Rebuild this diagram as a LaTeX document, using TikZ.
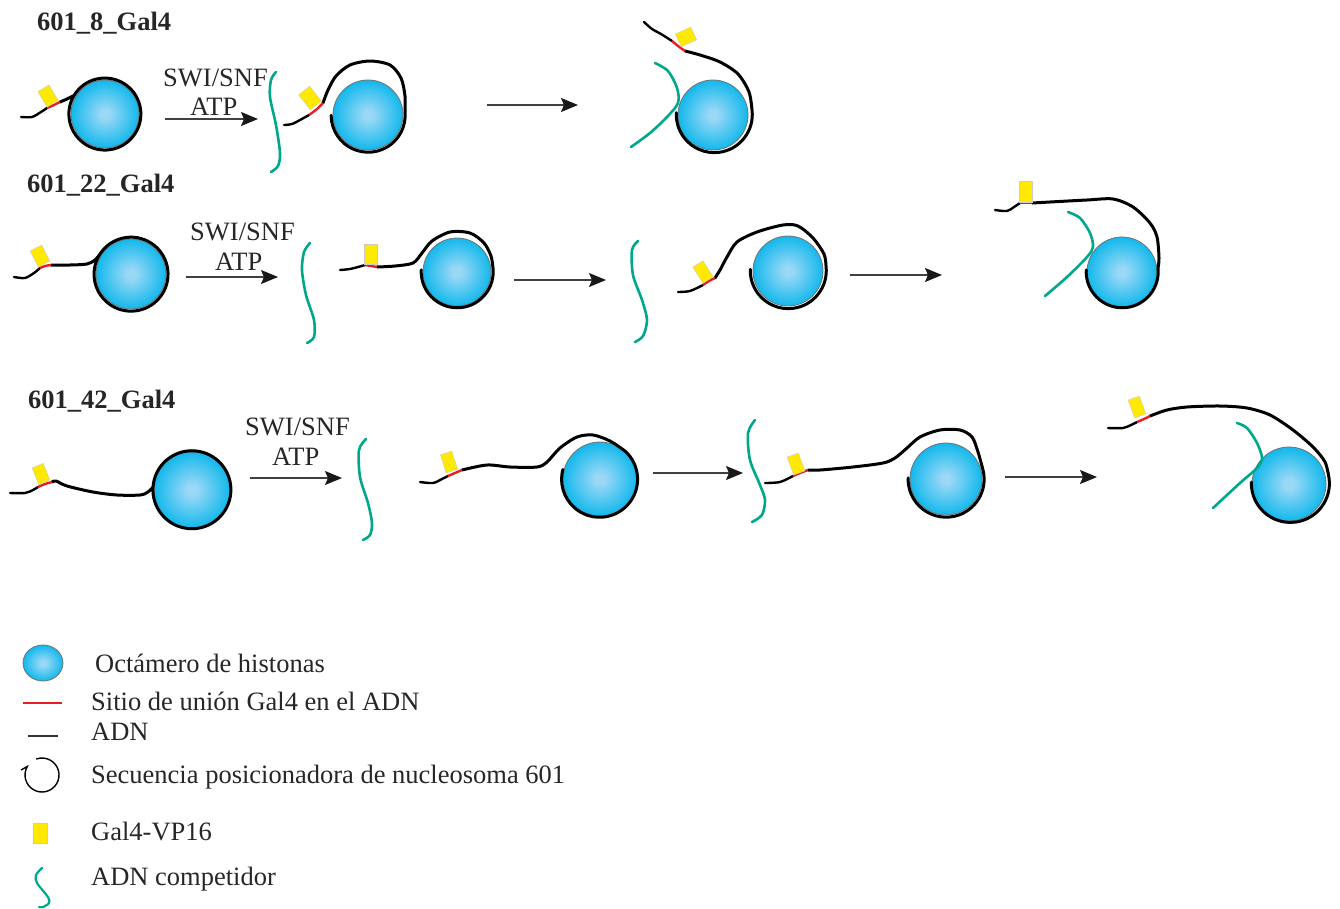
\documentclass[tikz,border=0pt]{standalone}
\usepackage{fontspec}
\setmainfont{Liberation Serif}
\usetikzlibrary{arrows.meta}

\definecolor{histblue}{RGB}{0,180,235}
\definecolor{histlight}{RGB}{155,216,246}
\definecolor{galyellow}{RGB}{255,233,0}
\definecolor{sitered}{RGB}{230,30,36}
\definecolor{compgreen}{RGB}{0,168,138}

\pgfdeclareradialshading{histshade}{\pgfpoint{0bp}{0bp}}{color(0bp)=(histlight); color(3bp)=(histlight); color(28bp)=(histblue); color(50bp)=(histblue)}

\tikzset{
  dna/.style={line width=2.4pt, black, line cap=round, line join=round},
  dnawrap/.style={dna, line width=3pt},
  site/.style={line width=2.4pt, sitered},
  histone/.style={shading=histshade, draw=black!55, line width=0.8pt},
  gal/.style={fill=galyellow, draw=black!20, line width=0.4pt, inner sep=0pt, minimum width=13pt, minimum height=18pt},
  comp/.style={line width=2.6pt, compgreen, line cap=round},
  react/.style={line width=1.4pt, black!75, -{Stealth[length=17pt, width=14pt, inset=3pt, black!90]}},
  lbl/.style={font=\fontsize{26.5}{30}\selectfont, text=black!85, inner sep=0pt, anchor=base west},
  ttl/.style={lbl, font=\fontsize{26.5}{30}\selectfont\bfseries},
}

\begin{document}
\begin{tikzpicture}[x=1pt, y=-1pt]
\useasboundingbox (0,0) rectangle (1340,908);

\node[ttl] (t8) at (37,30) {601\_8\_Gal4};

\shadedraw[histone] (105,114) circle (34);
\draw[dnawrap] plot[smooth] coordinates {(60,102) (67,99) (74,95.5)} arc[start angle=211, end angle=585, radius=36];
\draw[dna] plot[smooth] coordinates {(21,117) (32,117) (41,112) (47,108)};
\draw[site] plot[smooth] coordinates {(47,108) (54,105) (60,102)};
\node[gal, rotate=31] (g8a) at (48,96) {};

\node[lbl] (swi8) at (163,86) {SWI/SNF};
\node[lbl] (atp8) at (190,115) {ATP};
\coordinate (s8a) at (165,119);
\coordinate (e8a) at (258,119);
\draw[react] (s8a) -- (e8a);

\shadedraw[histone] (368,115) circle (35);
\draw[dnawrap] plot[smooth] coordinates {(323,103) (328,90) (336,76) (350,65) (370,61) (390,65) (401,78) (405,96) (405,112)} arc[start angle=-5, end angle=180, radius=37];
\draw[dna] plot[smooth] coordinates {(284,125) (292,124) (300,120) (309,115)};
\draw[site] plot[smooth] coordinates {(309,115) (317,109) (323,103)};
\node[gal, rotate=38, minimum width=14pt, minimum height=19pt] (g8b) at (310,98) {};

\coordinate (s8b) at (487,105);
\coordinate (e8b) at (578,105);
\draw[react] (s8b) -- (e8b);

\shadedraw[histone] (713,115) circle (35);
\draw[dnawrap] plot[smooth] coordinates {(685,51) (700,55) (720,62) (738,74) (749,92) (752,110)} arc[start angle=-7, end angle=183, radius=38];
\draw[dna] plot[smooth] coordinates {(644,22) (652,29) (661,34) (672,41)};
\draw[site] plot[smooth] coordinates {(672,41) (678,46) (685,51)};
\node[gal, rotate=-65, minimum width=14pt, minimum height=17pt] (g8c) at (686,37) {};

\draw[comp] plot[smooth] coordinates {(276,72) (271,80) (270,97) (276,125) (280,153) (278,166) (271,172)};
\draw[comp] plot[smooth] coordinates {(655,63) (668,71) (677,88) (678,103) (667,117) (650,133) (631,147)};

\node[ttl] (t22) at (27,192) {601\_22\_Gal4};

\shadedraw[histone] (131,274) circle (35);
\draw[dnawrap] plot[smooth] coordinates {(51,265) (70,265) (87,264) (95,260) (100,254)} arc[start angle=213, end angle=590, radius=37];
\draw[dna] plot[smooth] coordinates {(14,277) (25,278) (34,273) (40,268)};
\draw[site] plot[smooth] coordinates {(40,268) (45,266) (51,265)};
\node[gal, rotate=27] (g22a) at (40,256) {};

\node[lbl] (swi22) at (190,240) {SWI/SNF};
\node[lbl] (atp22) at (215,270) {ATP};
\coordinate (s22a) at (186,277);
\coordinate (e22a) at (278,277);
\draw[react] (s22a) -- (e22a);

\shadedraw[histone] (457,272) circle (34);
\draw[dnawrap] plot[smooth] coordinates {(377,267) (395,266) (413,263) (422,253) (432,241) (450,232) (470,233) (484,243) (491,256) (493,268)} arc[start angle=-6, end angle=183, radius=36];
\draw[dna] plot[smooth] coordinates {(340,270) (350,269) (358,267) (365,265)};
\draw[site] plot[smooth] coordinates {(365,265) (371,266) (377,267)};
\node[gal, minimum height=20pt] (g22b) at (371,254) {};

\coordinate (s22b) at (514,280);
\coordinate (e22b) at (606,280);
\draw[react] (s22b) -- (e22b);

\shadedraw[histone] (788,271) circle (35);
\draw[dnawrap] plot[smooth] coordinates {(715,278) (720,270) (727,257) (737,242) (757,232) (783,225) (798,226) (813,238) (824,254) (826,266)} arc[start angle=-7, end angle=182, radius=38];
\draw[dna] plot[smooth] coordinates {(678,292) (690,291) (703,285)};
\draw[site] plot[smooth] coordinates {(703,285) (709,281) (715,278)};
\node[gal, rotate=32, minimum width=12pt, minimum height=19pt] (g22c) at (703,272) {};

\coordinate (s22c) at (850,275);
\coordinate (e22c) at (942,275);
\draw[react] (s22c) -- (e22c);

\shadedraw[histone] (1122,272) circle (35);
\draw[dnawrap] plot[smooth] coordinates {(1032,203) (1050,202) (1087,200) (1113,199) (1133,207) (1150,223) (1157,237) (1159,258) (1158,268)} arc[start angle=-6, end angle=183, radius=36];
\draw[dna] plot[smooth] coordinates {(995,210) (1007,211) (1014,207) (1020,203)};
\draw[site] plot[smooth] coordinates {(1020,203) (1026,203) (1032,203)};
\node[gal, minimum height=21pt] (g22d) at (1026,192) {};

\draw[comp] plot[smooth] coordinates {(310,243) (304,252) (302,270) (306,295) (314,320) (314,337) (307,343)};
\draw[comp] plot[smooth] coordinates {(638,241) (632,250) (633,275) (642,300) (647,320) (643,336) (635,342)};
\draw[comp] plot[smooth] coordinates {(1068,212) (1080,218) (1090,233) (1093,247) (1087,257) (1067,277) (1045,296)};

\node[ttl] (t42) at (28,408) {601\_42\_Gal4};

\shadedraw[histone] (192,490) circle (38);
\draw[dnawrap] plot[smooth] coordinates {(52,482) (56,481) (67,486) (93,492) (117,495) (140,495) (148,492) (153,487)} arc[start angle=184, end angle=544, radius=39];
\draw[dna] plot[smooth] coordinates {(10,493) (25,493) (33,490) (38,487)};
\draw[site] plot[smooth] coordinates {(38,487) (45,484) (52,482)};
\node[gal, rotate=22, minimum width=12pt] (g42a) at (41,474) {};

\node[lbl] (swi42) at (245,435) {SWI/SNF};
\node[lbl] (atp42) at (272,465) {ATP};
\coordinate (s42a) at (250,478);
\coordinate (e42a) at (342,478);
\draw[react] (s42a) -- (e42a);

\shadedraw[histone] (600,479) circle (37);
\draw[dnawrap] plot[smooth] coordinates {(462,470) (487,465) (510,467) (537,467) (547,462) (560,448) (577,437) (593,435) (610,441) (625,451)} arc[start angle=-48, end angle=195, radius=38];
\draw[dna] plot[smooth] coordinates {(420,482) (433,483) (442,479) (448,476)};
\draw[site] plot[smooth] coordinates {(448,476) (455,473) (462,470)};
\node[gal, rotate=18, minimum width=12pt, minimum height=19pt] (g42b) at (449,462) {};

\coordinate (s42b) at (653,473);
\coordinate (e42b) at (743,473);
\draw[react] (s42b) -- (e42b);

\shadedraw[histone] (946,479) circle (36);
\draw[dnawrap] plot[smooth] coordinates {(808,470) (820,470) (853,467) (883,463) (895,458) (907,448) (920,437) (940,430) (960,430) (972,437) (978,452) (983,470)} arc[start angle=-14, end angle=182, radius=38];
\draw[dna] plot[smooth] coordinates {(765,483) (780,482) (793,476)};
\draw[site] plot[smooth] coordinates {(793,476) (800,473) (808,470)};
\node[gal, rotate=20, minimum width=12pt, minimum height=19pt] (g42c) at (796,464) {};

\coordinate (s42c) at (1005,477);
\coordinate (e42c) at (1097,477);
\draw[react] (s42c) -- (e42c);

\shadedraw[histone] (1289,484) circle (37);
\draw[dnawrap] plot[smooth] coordinates {(1150,416) (1167,410) (1187,407) (1220,406) (1247,408) (1270,415) (1293,430) (1313,447) (1325,462) (1329,478)} arc[start angle=-8, end angle=182, radius=39];
\draw[dna] plot[smooth] coordinates {(1108,428) (1123,428) (1131,425) (1137,422)};
\draw[site] plot[smooth] coordinates {(1137,422) (1144,419) (1150,416)};
\node[gal, rotate=20, minimum width=12pt, minimum height=19pt] (g42d) at (1137,407) {};

\draw[comp] plot[smooth] coordinates {(366,439) (359,450) (360,477) (368,503) (372,523) (370,535) (363,540)};
\draw[comp] plot[smooth] coordinates {(755,420) (748,433) (750,460) (760,485) (765,500) (762,515) (752,522)};
\draw[comp] plot[smooth] coordinates {(1237,423) (1247,428) (1257,443) (1262,458) (1257,468) (1240,483) (1213,508)};

\shadedraw[histone] (43,663) ellipse [x radius=20, y radius=18];
\draw[sitered, line width=1.5pt] (23,703) -- (62,703);
\draw[black!80, line width=1.5pt] (28,736) -- (58,736);
\draw[line width=1.4pt] (21,770) -- (27.3,766.5) arc[start angle=210, end angle=-110, radius=17];
\node[gal, minimum width=14pt, minimum height=20pt] (lgal) at (40,833) {};
\draw[comp, line width=2.2pt] plot[smooth] coordinates {(42,868) (36,875) (37,883) (48,897) (49,903) (43,907) (39,907)};

\node[lbl] (lhist) at (95,672) {Octámero de histonas};
\node[lbl] (lsite) at (91,710) {Sitio de unión Gal4 en el ADN};
\node[lbl] (ldna) at (91,740) {ADN};
\node[lbl] (lseq) at (91,783) {Secuencia posicionadora de nucleosoma 601};
\node[lbl] (lgaltxt) at (91,840) {Gal4-VP16};
\node[lbl] (lcomp) at (91,885) {ADN competidor};
\end{tikzpicture}
\end{document}
